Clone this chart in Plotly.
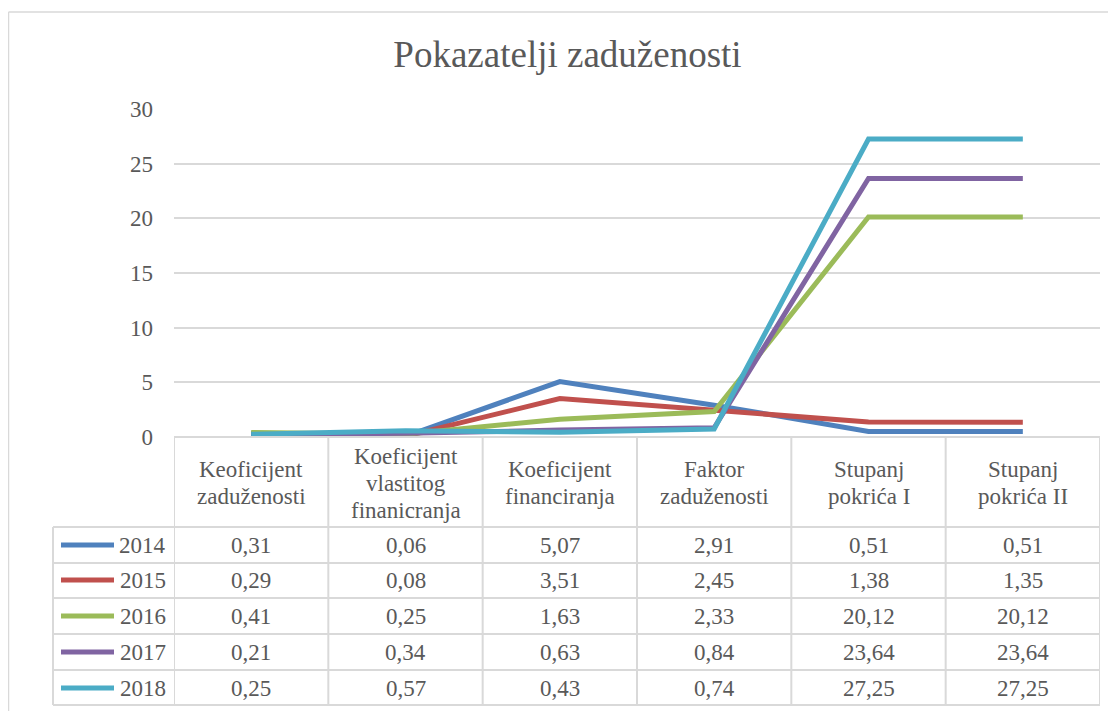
import plotly.graph_objects as go

title = "Pokazatelji zaduženosti"
categories = ["Keoficijent<br>zaduženosti", "Koeficijent<br>vlastitog<br>finanicranja",
              "Koeficijent<br>financiranja", "Faktor<br>zaduženosti",
              "Stupanj<br>pokrića I", "Stupanj<br>pokrića II"]
years = ["2014", "2015", "2016", "2017", "2018"]
v2014 = [0.31, 0.06, 5.07, 2.91, 0.51, 0.51]
v2015 = [0.29, 0.08, 3.51, 2.45, 1.38, 1.35]
v2016 = [0.41, 0.25, 1.63, 2.33, 20.12, 20.12]
v2017 = [0.21, 0.34, 0.63, 0.84, 23.64, 23.64]
v2018 = [0.25, 0.57, 0.43, 0.74, 27.25, 27.25]
series = [v2014, v2015, v2016, v2017, v2018]
colors = ["#4F81BD", "#C0504D", "#9BBB59", "#8064A2", "#4BACC6"]
y_ticks = [0, 5, 10, 15, 20, 25, 30]

W, H = 1116, 711
OFF = 8  # page body margin offset


def px(x):
    return (x - OFF) / W


def py(y):
    return 1 - (y - OFF) / H


FONT = "Liberation Serif, Times New Roman, serif"
TXT = "#595959"
GRID = "#D9D9D9"
FS = 23

fig = go.Figure()
xs = list(range(len(categories)))
for yr, vals, c in zip(years, series, colors):
    fig.add_trace(go.Scatter(x=xs, y=vals, mode="lines", name=yr,
                             line=dict(color=c, width=5), showlegend=False,
                             hoverinfo="y+name"))

X0, X1 = 174, 1100
Y0, Y1 = 437, 109

fig.update_layout(
    template="none",
    width=W, height=H, autosize=False,
    margin=dict(l=0, r=0, t=0, b=0, pad=0),
    paper_bgcolor="white", plot_bgcolor="white",
    font=dict(family=FONT, color=TXT, size=FS),
    title=dict(text=title, x=px(567.5), xanchor="center", xref="paper", y=py(54), yref="paper",
               yanchor="middle", font=dict(size=37, color=TXT, family=FONT)),
    xaxis=dict(domain=[px(X0), px(X1)], range=[-0.5, 5.5], showticklabels=False, automargin=False,
               showgrid=False, zeroline=False, showline=False, fixedrange=True),
    yaxis=dict(domain=[py(Y0), py(Y1)], range=[0, 30], tickvals=y_ticks, automargin=False,
               showgrid=True, gridcolor=GRID, gridwidth=1.5, zeroline=False,
               showline=False, ticks="", ticklabelstandoff=20,
               tickfont=dict(size=FS, color=TXT, family=FONT), fixedrange=True),
)

shapes = []
# outer chart border (top and left)
shapes.append(dict(type="line", xref="paper", yref="paper", x0=px(8.5), x1=px(1130), y0=py(12), y1=py(12),
                   line=dict(color="#D9D9D9", width=1.5)))
shapes.append(dict(type="line", xref="paper", yref="paper", x0=px(8.5), x1=px(8.5), y0=py(12), y1=py(730),
                   line=dict(color="#D9D9D9", width=1.5)))

TB = 705
row_lines = [527, 563, 598, 634, 670, 705]
LEFT = 53
shapes.append(dict(type="line", xref="paper", yref="paper", x0=px(X0), x1=px(X1), y0=py(Y0), y1=py(Y0),
                   line=dict(color=GRID, width=2)))
for ry in row_lines:
    shapes.append(dict(type="line", xref="paper", yref="paper", x0=px(LEFT), x1=px(X1), y0=py(ry), y1=py(ry),
                       line=dict(color=GRID, width=2)))
shapes.append(dict(type="line", xref="paper", yref="paper", x0=px(LEFT), x1=px(LEFT), y0=py(row_lines[0]), y1=py(TB),
                   line=dict(color=GRID, width=2)))
for i in range(len(categories) + 1):
    shapes.append(dict(type="line", xref="x", yref="paper", x0=i - 0.5, x1=i - 0.5, y0=py(Y0), y1=py(TB),
                       line=dict(color=GRID, width=2)))

annotations = []
HEAD_C = 483
LINE_H = 27
for i, cat in enumerate(categories):
    parts = cat.split("<br>")
    n = len(parts)
    for k, part in enumerate(parts):
        yl = HEAD_C + (k - (n - 1) / 2) * LINE_H
        annotations.append(dict(text=part, x=i, xref="x", y=py(yl), yref="paper", showarrow=False,
                                xanchor="center", yanchor="middle", align="center",
                                font=dict(size=FS, color=TXT, family=FONT)))

row_centers = [545, 580, 616, 652, 688]
for r, (yr, vals, c) in enumerate(zip(years, series, colors)):
    yc = row_centers[r]
    shapes.append(dict(type="line", xref="paper", yref="paper", x0=px(61), x1=px(114), y0=py(yc), y1=py(yc),
                       line=dict(color=c, width=5)))
    annotations.append(dict(text=yr, x=px(168), xref="paper", y=py(yc), yref="paper", showarrow=False,
                            xanchor="right", yanchor="middle",
                            font=dict(size=FS, color=TXT, family=FONT)))
    for i, v in enumerate(vals):
        annotations.append(dict(text=f"{v:.2f}".replace(".", ","), x=i, xref="x", y=py(yc), yref="paper",
                                showarrow=False, xanchor="center", yanchor="middle",
                                font=dict(size=FS, color=TXT, family=FONT)))

fig.update_layout(shapes=shapes, annotations=annotations)
fig.write_html("out.html")
